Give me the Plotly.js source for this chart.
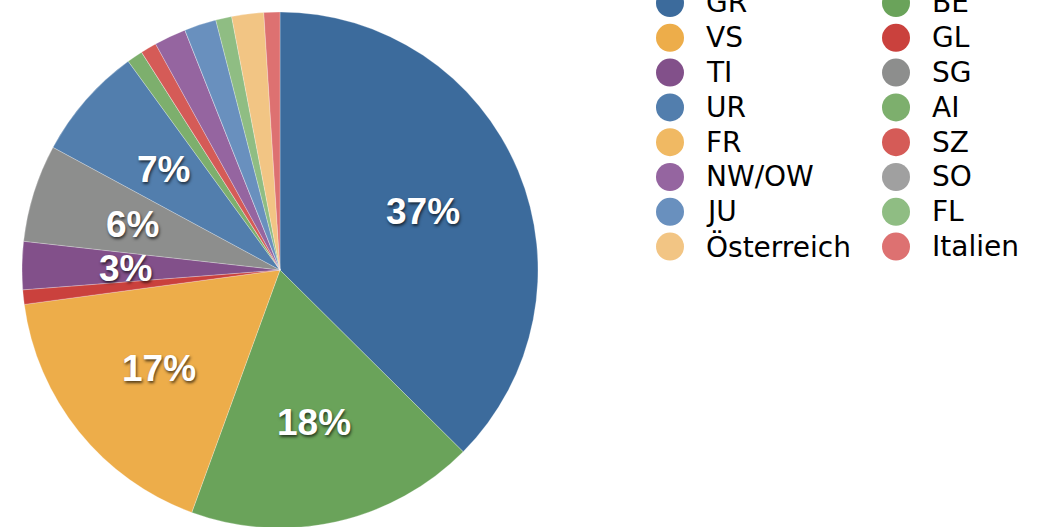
<!DOCTYPE html>
<html>
<head>
<meta charset="utf-8">
<script src="https://cdn.plot.ly/plotly-3.0.1.min.js"></script>
<style>
  html, body { margin: 0; padding: 0; overflow: hidden; background: #ffffff; }
  #chart { width: 1048px; height: 540px; }
</style>
</head>
<body>
<div id="chart"></div>
<script>
// ---- data ----
const labels = ["GR", "BE", "VS", "GL", "TI", "SG", "UR", "AI", "FR", "SZ", "NW/OW", "SO", "JU", "FL", "Österreich", "Italien"];
const values = [37.4, 18.1, 17.3, 0.9, 3.0, 6.1, 7.1, 1.0, 0, 1.0, 2.0, 0, 2.0, 1.0, 2.0, 1.0];
const colors = ["#3c6b9c", "#6aa35a", "#edad4a", "#ca413d", "#82508a", "#8d8e8d", "#527ead", "#7daf6d",
                "#f0b963", "#d55b57", "#9565a0", "#a0a0a0", "#6990be", "#8fbd83", "#f2c584", "#dd7171"];
const minLabelPercent = 3;

// ---- geometry ----
const W = 1048, H = 540;
const pieDomainX = [22 / W, 538 / W];
const pieDomainY = [12 / H, 528 / H];
const R = Math.min((pieDomainX[1] - pieDomainX[0]) * W, (pieDomainY[1] - pieDomainY[0]) * H) / 2;
const cx = (pieDomainX[0] + pieDomainX[1]) / 2;
const cy = (pieDomainY[0] + pieDomainY[1]) / 2;

const total = values.reduce((a, b) => a + b, 0);

// percentage labels placed at the middle angle of each slice
const annotations = [];
let acc = 0;
values.forEach((v, i) => {
  const start = acc / total * 2 * Math.PI;
  acc += v;
  const end = acc / total * 2 * Math.PI;
  const pct = Math.round(v / total * 100);
  if (pct >= minLabelPercent) {
    const mid = (start + end) / 2;
    const rr = 0.6 * R;
    annotations.push({
      xref: 'paper', yref: 'paper',
      x: cx + rr * Math.sin(mid) / W,
      y: cy + rr * Math.cos(mid) / H,
      text: pct + '%', showarrow: false,
      xanchor: 'center', yanchor: 'middle', yshift: -1,
      font: { family: 'Liberation Sans, Arial, sans-serif', size: 37, color: '#ffffff', weight: 700,
              shadow: '1px 2px 3px rgba(0,0,0,0.65)' }
    });
  }
});

// manual two-column legend with round swatches (row-major, same order as the slices)
const shapes = [];
const legColX = [670, 896];
const legTextX = [705, 931];
const legY0 = 3, legDY = 34.8, swatchR = 14;
labels.forEach((lab, i) => {
  const col = i % 2, row = Math.floor(i / 2);
  const ypx = legY0 + row * legDY;
  shapes.push({
    type: 'circle', xref: 'paper', yref: 'paper',
    xsizemode: 'pixel', ysizemode: 'pixel',
    xanchor: legColX[col] / W, yanchor: 1 - ypx / H,
    x0: -swatchR, x1: swatchR, y0: -swatchR, y1: swatchR,
    fillcolor: colors[i], line: { width: 0 }
  });
  annotations.push({
    xref: 'paper', yref: 'paper',
    x: legTextX[col] / W, y: 1 - ypx / H,
    text: lab, showarrow: false, xanchor: 'left', yanchor: 'middle',
    borderpad: 0,
    font: { family: 'DejaVu Sans, Noto Sans, sans-serif', size: 28, color: '#000000' }
  });
});

const trace = {
  type: 'pie',
  labels: labels,
  values: values,
  sort: false,
  direction: 'clockwise',
  rotation: 0,
  marker: { colors: colors, line: { color: 'rgba(255,255,255,0.5)', width: 0.5 } },
  textinfo: 'none',
  hoverinfo: 'label+percent',
  domain: { x: pieDomainX, y: pieDomainY },
  showlegend: false
};

const layout = {
  width: W, height: H,
  margin: { l: 0, r: 0, t: 0, b: 0 },
  paper_bgcolor: '#ffffff',
  showlegend: false,
  annotations: annotations,
  shapes: shapes
};

Plotly.newPlot('chart', [trace], layout, { displayModeBar: false, staticPlot: true });
</script>
</body>
</html>
